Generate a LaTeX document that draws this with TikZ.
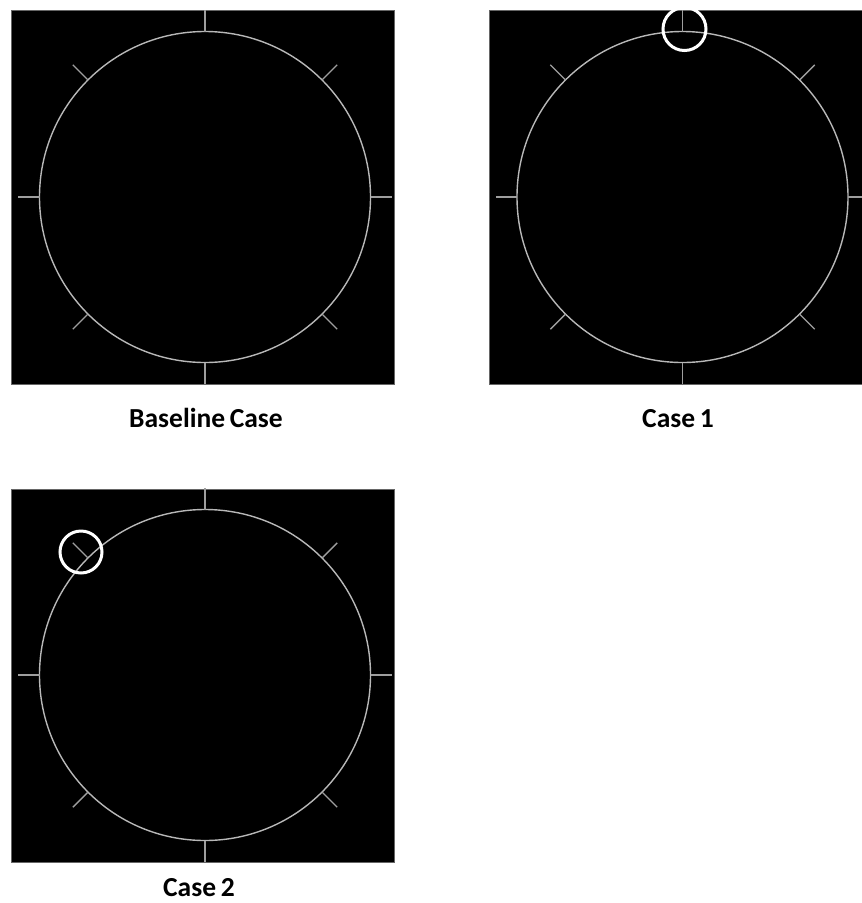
\documentclass[tikz,border=0pt]{standalone}
\usepackage{fontspec}
\setmainfont{Carlito}
\begin{document}
\begin{tikzpicture}[x=1pt,y=-1pt,
  panel/.style={fill=black,draw=black!60,line width=0.6pt},
  ring/.style={draw=black!28,line width=1.4pt},
  tickline/.style={draw=black!38,line width=1.4pt},
  markring/.style={draw=white,line width=3pt},
  caption/.style={font=\bfseries\fontsize{27.5}{30}\selectfont,text=black,inner sep=0pt,anchor=base}]
\useasboundingbox (0,0) rectangle (862,903);
\fill[white] (0,0) rectangle (862,903);
% panels
\path[panel] (11,10) rectangle (394,384);
\path[panel] (489,10) rectangle (870,384);
\path[panel] (11,489) rectangle (394,862);
\coordinate (c0) at (205,197);
\coordinate (c1) at (682.5,197);
\coordinate (c2) at (205,675);
% rings and ticks
\foreach \c in {c0,c1,c2}{
  \begin{scope}[shift={(\c)}]
    \draw[ring] (0,0) circle (165.5);
    \foreach \a in {0,45,...,315}{
      \draw[tickline] (\a:165.5) -- (\a:187);
    }
  \end{scope}
}
% highlight rings
\node[markring,circle,minimum size=43pt,inner sep=0pt] (h1) at (684.5,29) {};
\node[markring,circle,minimum size=42pt,inner sep=0pt] (h2) at (81,552) {};
% captions
\node[caption] (l0) at (206,427) {Baseline\hspace{-1.5pt} Case};
\node[caption] (l1) at (678,427) {Case\hspace{-1.5pt} 1};
\node[caption] (l2) at (199,896) {Case\hspace{-1.5pt} 2};
\end{tikzpicture}
\end{document}
